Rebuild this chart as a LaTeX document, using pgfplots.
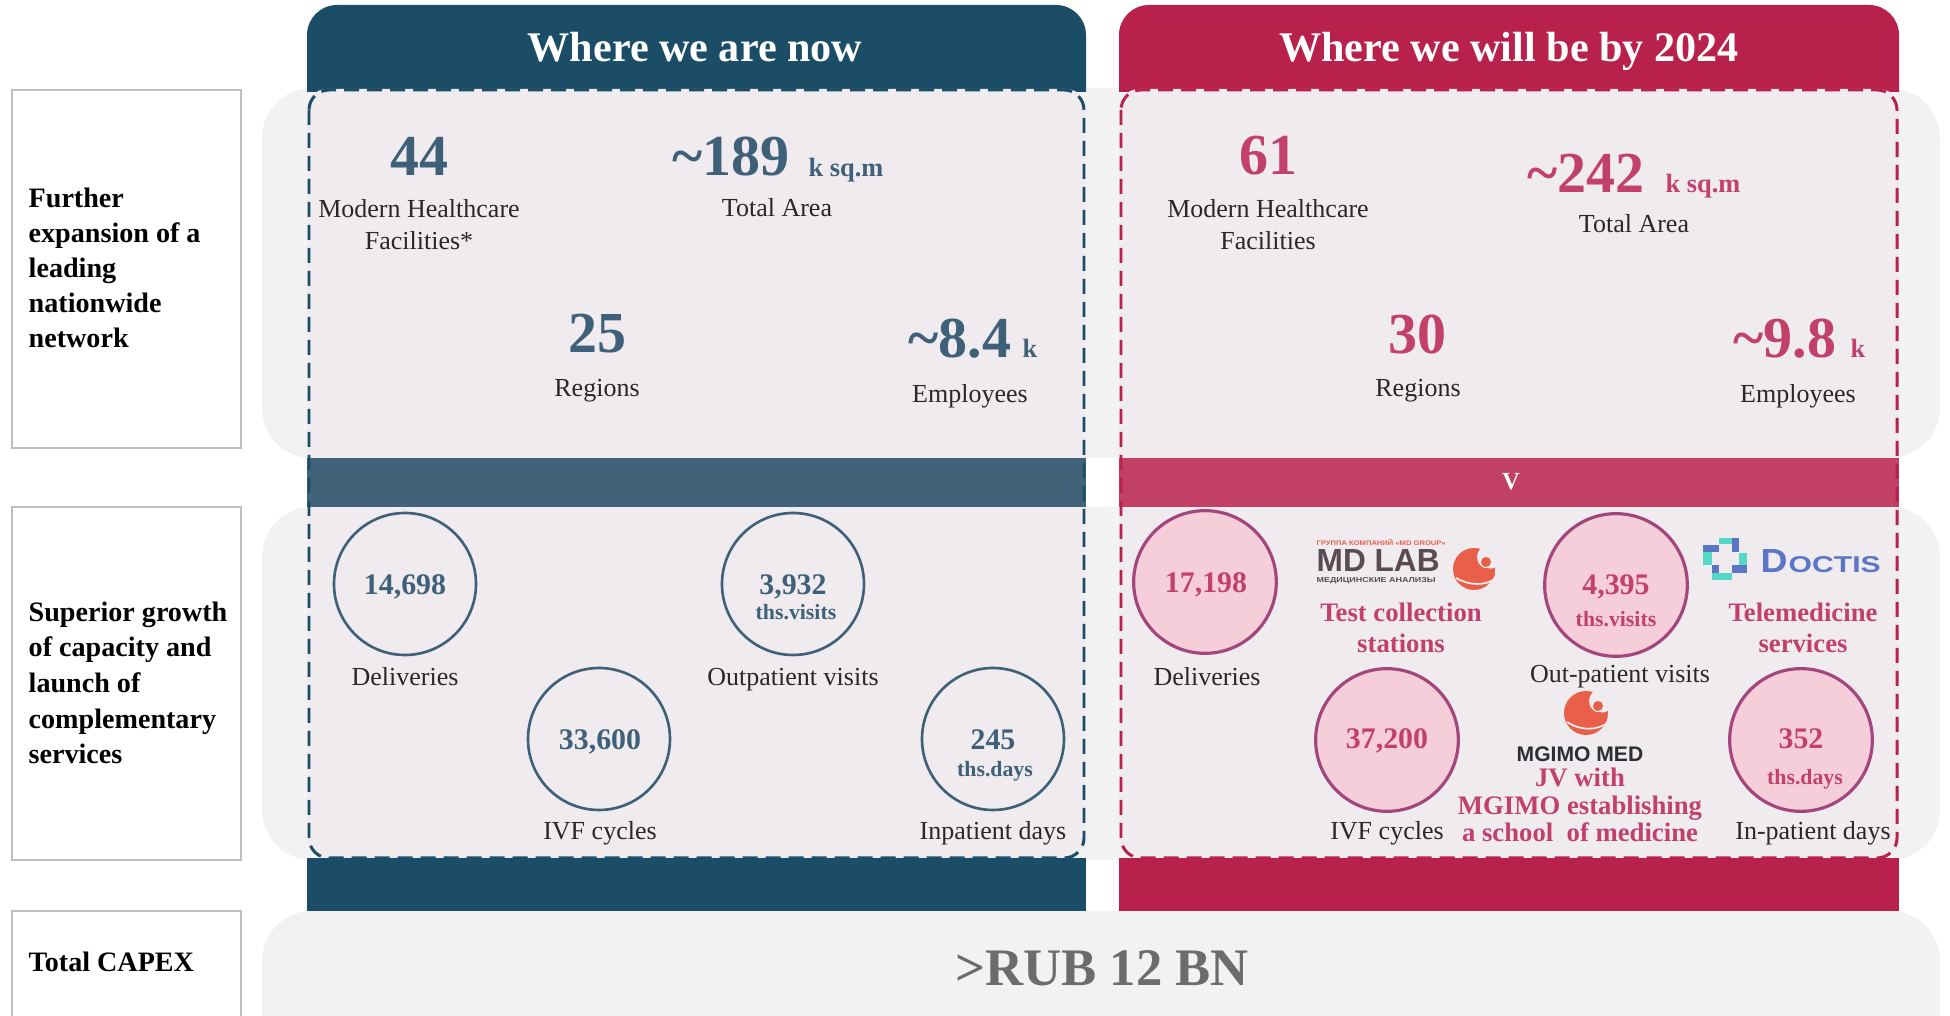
\documentclass[border=0pt]{standalone}
\usepackage{fontspec}
\setmainfont{Liberation Serif}
\newfontfamily\sansb{Liberation Sans}
\usepackage{pgfplots}
\pgfplotsset{compat=1.18}
\definecolor{hdrblue}{RGB}{28,77,102}
\definecolor{midblue}{RGB}{65,99,121}
\definecolor{numblue}{RGB}{62,96,120}
\definecolor{hdrred}{RGB}{184,33,75}
\definecolor{midred}{RGB}{194,63,101}
\definecolor{numred}{RGB}{194,65,106}
\definecolor{boxfill}{RGB}{240,235,238}
\definecolor{panelgray}{RGB}{242,242,242}
\definecolor{boxgray}{RGB}{190,190,190}
\definecolor{circpink}{RGB}{245,206,218}
\definecolor{circpurple}{RGB}{163,70,126}
\definecolor{labelgray}{RGB}{40,40,40}
\definecolor{capexgray}{RGB}{108,108,108}
\definecolor{mdgray}{RGB}{90,75,82}
\definecolor{birdorange}{RGB}{232,96,74}
\definecolor{docblue}{RGB}{90,118,196}
\definecolor{docteal}{RGB}{85,216,197}
\definecolor{mgimodark}{RGB}{43,47,51}
\newcommand{\fs}[1]{\fontsize{#1}{#1}\selectfont}
\begin{document}
\begin{tikzpicture}
\begin{axis}[set layers, at={(0,0)}, anchor=south west, scale only axis, width=19.5cm, height=10.16cm,
  xmin=0, xmax=1950, ymin=0, ymax=1016, y dir=reverse, hide axis, clip=false]
% gray panels
\fill[panelgray, rounded corners=0.5cm] (axis cs:262,88) rectangle (axis cs:1940,458);
\fill[panelgray, rounded corners=0.5cm] (axis cs:262,507) rectangle (axis cs:1940,860);
\fill[panelgray, rounded corners=0.5cm] (axis cs:262,911) rectangle (axis cs:1940,1090);
% left label boxes
\draw[boxgray, line width=0.45pt, fill=white] (axis cs:12,90) rectangle (axis cs:241,448);
\draw[boxgray, line width=0.45pt, fill=white] (axis cs:12,507) rectangle (axis cs:241,860);
\draw[boxgray, line width=0.45pt, fill=white] (axis cs:12,911) rectangle (axis cs:241,1030);
% left column
\fill[hdrblue] (axis cs:307,92) [rounded corners=0.3cm] -- (axis cs:307,5) -- (axis cs:1086,5) [sharp corners] -- (axis cs:1086,92) -- cycle;
\fill[hdrblue] (axis cs:307,858) rectangle (axis cs:1086,911);
\fill[boxfill, rounded corners=0.2cm] (axis cs:307,89) rectangle (axis cs:1086,858);
\fill[midblue] (axis cs:307,458) rectangle (axis cs:1086,507);
\draw[hdrblue, line width=0.85pt, dash pattern=on 0.15cm off 0.08cm, rounded corners=0.2cm] (axis cs:309,90) rectangle (axis cs:1084,858);
% right column
\fill[hdrred] (axis cs:1119,92) [rounded corners=0.3cm] -- (axis cs:1119,5) -- (axis cs:1899,5) [sharp corners] -- (axis cs:1899,92) -- cycle;
\fill[hdrred] (axis cs:1119,858) rectangle (axis cs:1899,911);
\fill[boxfill, rounded corners=0.2cm] (axis cs:1119,89) rectangle (axis cs:1899,858);
\fill[midred] (axis cs:1119,458) rectangle (axis cs:1899,507);
\draw[hdrred, line width=0.85pt, dash pattern=on 0.15cm off 0.08cm, rounded corners=0.2cm] (axis cs:1121,90) rectangle (axis cs:1897,858);
% headers
\node[anchor=base, font=\bfseries\fs{12}, text=white] at (axis cs:695,62) {Where we are now};
\node[anchor=base, font=\bfseries\fs{12}, text=white] at (axis cs:1509,62) {Where we will be by 2024};
\node[anchor=base, font=\bfseries\fs{7}, text=white] at (axis cs:1511,490) {V};
% left labels
\begin{scope}[every node/.style={anchor=base west, inner sep=0pt, font=\bfseries\fs{8}, text=black}]
\node at (axis cs:28,208) {Further};
\node at (axis cs:28,243) {expansion of a};
\node at (axis cs:28,278) {leading};
\node at (axis cs:28,313) {nationwide};
\node at (axis cs:28,348) {network};
\node at (axis cs:28,622) {Superior growth};
\node at (axis cs:28,657) {of capacity and};
\node at (axis cs:28,693) {launch of};
\node at (axis cs:28,729) {complementary};
\node at (axis cs:28,764) {services};
\node at (axis cs:28,972) {Total CAPEX};
\end{scope}
% labels
\begin{scope}[every node/.style={anchor=base, font=\fs{7.4}, text=labelgray}]
\node at (axis cs:419,218) {Modern Healthcare};
\node at (axis cs:419,250) {Facilities*};
\node at (axis cs:777,217) {Total Area};
\node at (axis cs:597,397) {Regions};
\node at (axis cs:970,403) {Employees};
\node at (axis cs:1268,218) {Modern Healthcare};
\node at (axis cs:1268,250) {Facilities};
\node at (axis cs:1634,233) {Total Area};
\node at (axis cs:1418,397) {Regions};
\node at (axis cs:1798,403) {Employees};
\node at (axis cs:405,686) {Deliveries};
\node at (axis cs:793,686) {Outpatient visits};
\node at (axis cs:600,840) {IVF cycles};
\node at (axis cs:993,840) {Inpatient days};
\node at (axis cs:1207,686) {Deliveries};
\node at (axis cs:1620,683) {Out-patient visits};
\node at (axis cs:1387,840) {IVF cycles};
\node at (axis cs:1813,840) {In-patient days};
\end{scope}
\begin{scope}[every node/.style={font=\bfseries\fs{16.5}, text=numblue, inner sep=0pt}]
\node[anchor=base] at (axis cs:419,176) {44};
\node[anchor=base west] at (axis cs:672,176) {\textasciitilde189};
\node[anchor=base] at (axis cs:597,353) {25};
\node[anchor=base west] at (axis cs:908,358) {\textasciitilde8.4};
\end{scope}
\begin{scope}[every node/.style={font=\bfseries\fs{7.5}, text=numblue, anchor=base west, inner sep=0pt}]
\node at (axis cs:808,177) {k sq.m};
\node at (axis cs:1022,358) {k};
\end{scope}
\begin{scope}[every node/.style={font=\bfseries\fs{16.5}, text=numred, inner sep=0pt}]
\node[anchor=base] at (axis cs:1268,175) {61};
\node[anchor=base west] at (axis cs:1527,193) {\textasciitilde242};
\node[anchor=base] at (axis cs:1417,354) {30};
\node[anchor=base west] at (axis cs:1733,358) {\textasciitilde9.8};
\end{scope}
\begin{scope}[every node/.style={font=\bfseries\fs{7.5}, text=numred, anchor=base west, inner sep=0pt}]
\node at (axis cs:1665,193) {k sq.m};
\node at (axis cs:1850,358) {k};
\end{scope}
% circles
\addplot[only marks, mark=*, mark size=20.2pt, mark options={draw=numblue, fill=boxfill, line width=0.75pt}] table {
x y
405 584
793 584
599 739
993 739
};
\addplot[only marks, mark=*, mark size=20.3pt, mark options={draw=circpurple, fill=circpink, line width=0.9pt}] table {
x y
1205 582
1616 585
1387 740
1801 740
};
\begin{pgfonlayer}{axis foreground}
% circle numbers
\begin{scope}[every node/.style={anchor=base, font=\bfseries\fs{8.5}, text=numblue}]
\node at (axis cs:405,595) {14,698};
\node at (axis cs:793,595) {3,932};
\node at (axis cs:600,750) {33,600};
\node at (axis cs:993,750) {245};
\end{scope}
\begin{scope}[every node/.style={anchor=base, font=\bfseries\fs{6.2}, text=numblue}]
\node at (axis cs:796,620) {ths.visits};
\node at (axis cs:995,777) {ths.days};
\end{scope}
\begin{scope}[every node/.style={anchor=base, font=\bfseries\fs{8.5}, text=numred}]
\node at (axis cs:1206,593) {17,198};
\node at (axis cs:1616,595) {4,395};
\node at (axis cs:1387,749) {37,200};
\node at (axis cs:1801,749) {352};
\end{scope}
\begin{scope}[every node/.style={anchor=base, font=\bfseries\fs{6.2}, text=numred}]
\node at (axis cs:1616,627) {ths.visits};
\node at (axis cs:1805,785) {ths.days};
\end{scope}
\end{pgfonlayer}
% pink texts
\begin{scope}[every node/.style={anchor=base, font=\bfseries\fs{7.6}, text=numred}]
\node at (axis cs:1401,622) {Test collection};
\node at (axis cs:1401,653) {stations};
\node at (axis cs:1803,622) {Telemedicine};
\node at (axis cs:1803,653) {services};
\node at (axis cs:1580,787) {JV with};
\node at (axis cs:1580,815) {MGIMO establishing};
\node at (axis cs:1580,842) {a school\ \ of medicine};
\end{scope}
\node[anchor=base, font=\sansb\bfseries\fs{6}, text=mgimodark] at (axis cs:1580,762) {MGIMO MED};
% MD LAB logo
\node[anchor=base west, inner sep=0pt, text=birdorange] at (axis cs:1316,546) {\resizebox{1.29cm}{0.06cm}{\sansb\bfseries ГРУППА КОМПАНИЙ «MD GROUP»}};
\node[anchor=base west, inner sep=0pt, text=mdgray] at (axis cs:1316,572) {\resizebox{1.23cm}{0.22cm}{\sansb\bfseries MD LAB}};
\node[anchor=base west, inner sep=0pt, text=mdgray] at (axis cs:1316,583) {\resizebox{1.19cm}{0.05cm}{\sansb\bfseries МЕДИЦИНСКИЕ АНАЛИЗЫ}};
\fill[birdorange] (axis cs:1474,569) circle[radius=0.21cm];
\fill[boxfill] (axis cs:1489,557) circle[radius=0.12cm];
\fill[birdorange] (axis cs:1486,562) circle[radius=0.05cm];
\fill[birdorange] (axis cs:1487,574) ellipse[x radius=0.08cm, y radius=0.06cm];
\draw[boxfill, line width=0.5pt] (axis cs:1456,578) .. controls (axis cs:1470,586) and (axis cs:1485,586) .. (axis cs:1497,578);
% MGIMO bird
\fill[birdorange] (axis cs:1586,713) circle[radius=0.22cm];
\fill[boxfill] (axis cs:1601,701) circle[radius=0.12cm];
\fill[birdorange] (axis cs:1598,706) circle[radius=0.05cm];
\fill[birdorange] (axis cs:1599,718) ellipse[x radius=0.08cm, y radius=0.06cm];
\draw[boxfill, line width=0.5pt] (axis cs:1567,722) .. controls (axis cs:1581,731) and (axis cs:1597,731) .. (axis cs:1609,722);
% Doctis logo
\fill[docteal] (axis cs:1719,538) rectangle (axis cs:1732,544);
\fill[docblue] (axis cs:1732,538) rectangle (axis cs:1739,552);
\fill[docblue] (axis cs:1703,545) rectangle (axis cs:1719,552);
\fill[docteal] (axis cs:1703,552) rectangle (axis cs:1712,565);
\fill[docteal] (axis cs:1739,553) rectangle (axis cs:1747,565);
\fill[docblue] (axis cs:1732,565) rectangle (axis cs:1747,573);
\fill[docblue] (axis cs:1712,565) rectangle (axis cs:1719,580);
\fill[docteal] (axis cs:1712,573) rectangle (axis cs:1732,580);
\node[anchor=base west, inner sep=0pt, text=docblue] at (axis cs:1760,573) {\resizebox{0.27cm}{0.23cm}{\sansb\bfseries D}};
\node[anchor=base west, inner sep=0pt, text=docblue] at (axis cs:1788,573) {\resizebox{0.92cm}{0.16cm}{\sansb\bfseries OCTIS}};
% capex
\node[anchor=base, font=\bfseries\fs{15}, text=capexgray] at (axis cs:1102,986) {>RUB 12 BN};
\end{axis}
\pgfresetboundingbox
\path[use as bounding box] (0,0) rectangle (19.5cm,10.16cm);
\end{tikzpicture}
\end{document}
